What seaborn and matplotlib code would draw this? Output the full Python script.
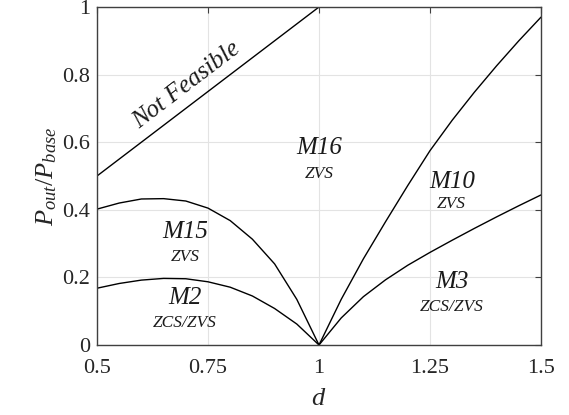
import matplotlib
matplotlib.use("Agg")
import matplotlib.pyplot as plt
import seaborn as sns
import pandas as pd

# ---- data ----
d_nf = [0.5, 1.0]
p_nf = [0.5, 1.0]

d_left = [0.5, 0.55, 0.6, 0.65, 0.7, 0.75, 0.8, 0.85, 0.9, 0.95, 1.0]
p_m15 = [0.402, 0.42, 0.432, 0.433, 0.426, 0.405, 0.368, 0.313, 0.24, 0.135, 0.0]
p_m2 = [0.168, 0.182, 0.192, 0.197, 0.196, 0.187, 0.171, 0.145, 0.108, 0.062, 0.0]

d_right = [1.0, 1.05, 1.1, 1.15, 1.2, 1.25, 1.3, 1.35, 1.4, 1.45, 1.5]
p_m10 = [0.0, 0.135, 0.255, 0.365, 0.472, 0.575, 0.665, 0.748, 0.826, 0.9, 0.97]
p_m3 = [0.0, 0.08, 0.143, 0.193, 0.236, 0.274, 0.31, 0.345, 0.379, 0.412, 0.444]

x_ticks = [0.5, 0.75, 1.0, 1.25, 1.5]
x_ticklabels = ["0.5", "0.75", "1", "1.25", "1.5"]
y_ticks = [0, 0.2, 0.4, 0.6, 0.8, 1.0]
y_ticklabels = ["0", "0.2", "0.4", "0.6", "0.8", "1"]

region_names = ["M16", "M15", "M2", "M10", "M3"]
region_modes = ["ZVS", "ZVS", "ZCS/ZVS", "ZVS", "ZCS/ZVS"]
region_x = [1.0, 0.698, 0.698, 1.299, 1.299]
region_y = [0.582, 0.335, 0.138, 0.483, 0.187]
mode_y = [0.506, 0.261, 0.066, 0.417, 0.113]

# ---- build long table ----
frames = []
for name, xs, ys in [("nf", d_nf, p_nf), ("m15", d_left, p_m15), ("m2", d_left, p_m2),
                     ("m10", d_right, p_m10), ("m3", d_right, p_m3)]:
    frames.append(pd.DataFrame({"d": xs, "p": ys, "curve": name}))
df = pd.concat(frames, ignore_index=True)

sns.set_theme(style="white")
plt.rcParams["font.family"] = "serif"
plt.rcParams["font.serif"] = ["Liberation Serif", "Times New Roman", "DejaVu Serif"]
plt.rcParams["mathtext.fontset"] = "custom"
plt.rcParams["mathtext.rm"] = "Liberation Serif"
plt.rcParams["mathtext.it"] = "Liberation Serif:italic"

fig = plt.figure(figsize=(5.69, 4.15), dpi=100)
ax = fig.add_axes([97 / 569, 1 - 345 / 415, (541 - 97) / 569, (345 - 7) / 415])

for name in ["nf", "m15", "m2", "m10", "m3"]:
    sub = df[df["curve"] == name]
    sns.lineplot(data=sub, x="d", y="p", ax=ax, color="black", linewidth=1.0,
                 estimator=None, sort=False, legend=False)

ax.set_xlim(0.5, 1.5)
ax.set_ylim(0, 1)
ax.set_xticks(x_ticks)
ax.set_xticklabels(x_ticklabels)
ax.set_yticks(y_ticks)
ax.set_yticklabels(y_ticklabels)
ax.grid(True, color="#e3e3e3", linewidth=0.8)
ax.set_axisbelow(True)
for s in ax.spines.values():
    s.set_color("#404040")
    s.set_linewidth(1.0)
ax.tick_params(direction="in", length=4, width=0.8, color="#404040",
               top=True, right=True, labelsize=16, labelcolor="#262626")
ax.tick_params(axis="x", pad=10)
ax.tick_params(axis="y", pad=5)

ax.set_xlabel("$d$", fontsize=19, color="#262626", labelpad=7)
ax.set_ylabel("$P_{out}/P_{base}$", fontsize=19, color="#262626", labelpad=2)

ax.text(0.702, 0.769, "Not Feasible", fontsize=18, style="italic", rotation=37.3,
        ha="center", va="center", color="#1a1a1a", rotation_mode="anchor")
for nm, md, x, y, my in zip(region_names, region_modes, region_x, region_y, mode_y):
    ax.text(x, y, nm, fontsize=18, style="italic", ha="center", va="center", color="#1a1a1a")
    ax.text(x, my, md, fontsize=12.5, style="italic", ha="center", va="center", color="#1a1a1a")

fig.savefig("out.png", dpi=100)
